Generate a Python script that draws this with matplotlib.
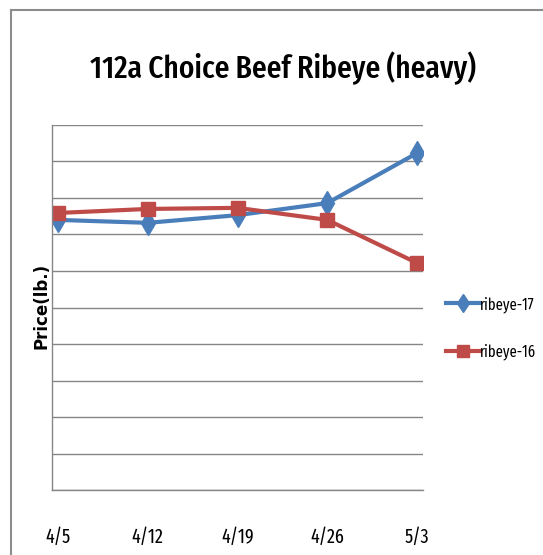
import matplotlib
matplotlib.use("Agg")
import matplotlib.pyplot as plt
from matplotlib.lines import Line2D

# 주간 날짜
weeks = ["4/5", "4/12", "4/19", "4/26", "5/3"]
# 가격 (눈금 단위 추정값)
ribeye_17 = [7.40, 7.32, 7.53, 7.86, 9.23]
ribeye_16 = [7.59, 7.70, 7.73, 7.40, 6.22]

narrow = ["Fira Sans Extra Condensed", "DejaVu Sans"]

fig = plt.figure(figsize=(5.43, 5.55), dpi=100)
ax = fig.add_axes([52 / 543, 65 / 555, 371 / 543, 365 / 555])

x = list(range(len(weeks)))
ax.plot(x, ribeye_17, color="#4A7EBB", lw=3, marker="d", ms=12,
        label="ribeye-17", solid_joinstyle="round")
ax.plot(x, ribeye_16, color="#BE4B48", lw=3, marker="s", ms=10.5,
        label="ribeye-16", solid_joinstyle="round")

ax.set_xlim(-0.067, 4.067)
ax.set_ylim(0, 10)
ax.set_yticks(range(0, 11))
ax.set_yticklabels([])
ax.set_xticks(x)
ax.set_xticklabels(weeks, family=narrow, fontsize=14)
ax.tick_params(axis="both", length=0)
ax.tick_params(axis="x", pad=27)
ax.grid(axis="y", color="#868686", lw=1)
ax.set_axisbelow(True)
for side in ["top", "right"]:
    ax.spines[side].set_visible(False)
for side in ["left", "bottom"]:
    ax.spines[side].set_color("#868686")
    ax.spines[side].set_linewidth(1)

# 제목 및 축 라벨
fig.text(283 / 543, 1 - 68 / 555, "112a Choice Beef Ribeye (heavy)",
         family=narrow, fontsize=23, fontweight="medium", ha="center", va="center")
fig.text(42 / 543, 1 - 306 / 555, "Price(lb.)", rotation=90,
         fontsize=12, fontweight="bold", ha="center", va="center")

# 범례
fig.legend(loc="upper left", bbox_to_anchor=(446 / 543, 1 - 296 / 555),
           frameon=False, borderpad=0, borderaxespad=0, handlelength=2.1,
           handletextpad=0.05, labelspacing=1.95, markerscale=0.8,
           prop={"family": narrow, "size": 11.5})

# 바깥 테두리
fig.add_artist(Line2D([11 / 543, 1.01], [1 - 10 / 555, 1 - 10 / 555],
                      transform=fig.transFigure, color="#8c8c8c", lw=1.5))
fig.add_artist(Line2D([11 / 543, 11 / 543], [1 - 10 / 555, -0.01],
                      transform=fig.transFigure, color="#8c8c8c", lw=1.5))

fig.savefig("out.png", dpi=100)
